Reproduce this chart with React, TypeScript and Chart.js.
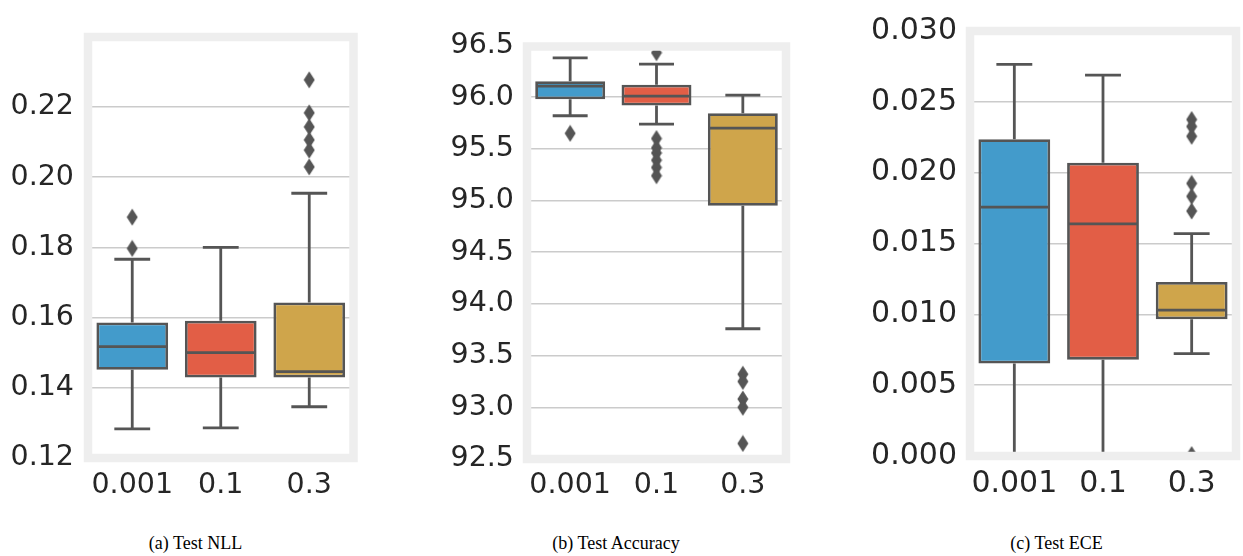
import React, { useEffect, useRef } from 'react';
import { Chart, registerables } from 'chart.js';

Chart.register(...registerables);

// ---------- data ----------
const categories = ['0.001', '0.1', '0.3'];
const boxColors = ['#439BCB', '#E25E46', '#CFA54B'];

// (a) Test NLL
const nllQ1 = [0.1451, 0.1429, 0.1429];
const nllMedian = [0.1517, 0.15, 0.1446];
const nllQ3 = [0.1586, 0.1591, 0.1643];
const nllWhiskerLow = [0.1283, 0.1286, 0.1346];
const nllWhiskerHigh = [0.1766, 0.18, 0.1954];
const nllOutliers = [[0.1886, 0.1797], [], [0.2277, 0.2183, 0.2143, 0.2106, 0.2077, 0.2029]];
const nllTicks = [0.12, 0.14, 0.16, 0.18, 0.2, 0.22];

// (b) Test Accuracy
const accQ1 = [95.98, 95.92, 94.95];
const accMedian = [96.107, 96.01, 95.7];
const accQ3 = [96.155, 96.12, 95.845];
const accWhiskerLow = [95.82, 95.74, 93.76];
const accWhiskerHigh = [96.38, 96.32, 96.02];
const accOutliers = [
  [95.65],
  [96.43, 95.6, 95.51, 95.46, 95.39, 95.32, 95.24],
  [93.32, 93.25, 93.08, 93.0, 92.65],
];
const accTicks = [92.5, 93.0, 93.5, 94.0, 94.5, 95.0, 95.5, 96.0, 96.5];

// (c) Test ECE
const eceQ1 = [0.00653, 0.0068, 0.00965];
const eceMedian = [0.01757, 0.01639, 0.0103];
const eceQ3 = [0.02236, 0.0207, 0.01229];
const eceWhiskerLow = [0.0, 0.0, 0.00722];
const eceWhiskerHigh = [0.02764, 0.02688, 0.0157];
const eceOutliers = [[], [], [0.02375, 0.02326, 0.02257, 0.01924, 0.01833, 0.01729, 0.0001]];
const eceTicks = [0, 0.005, 0.01, 0.015, 0.02, 0.025, 0.03];

const captions = ['(a) Test NLL', '(b) Test Accuracy', '(c) Test ECE'];

// ---------- styles ----------
const LINE = '#555555';
const FRAME = '#EEEEEE';
const GRID = '#CBCBCB';
const TEXT = '#262626';
const LW = 2.8;

type Panel = {
  q1: number[]; med: number[]; q3: number[]; lo: number[]; hi: number[];
  outliers: number[][]; ticks: number[]; decimals: number;
  ymin: number; ymax: number;
  canvas: { left: number; width: number; height: number };
  area: { left: number; right: number; top: number; bottom: number };
  font: number; yPad: number; xPad: number;
};

const panels: Panel[] = [
  {
    q1: nllQ1, med: nllMedian, q3: nllQ3, lo: nllWhiskerLow, hi: nllWhiskerHigh,
    outliers: nllOutliers, ticks: nllTicks, decimals: 2, ymin: 0.12, ymax: 0.2399,
    canvas: { left: 0, width: 362, height: 500 },
    area: { left: 88, right: 353.5, top: 37, bottom: 458 },
    font: 28.5, yPad: 14, xPad: 10,
  },
  {
    q1: accQ1, med: accMedian, q3: accQ3, lo: accWhiskerLow, hi: accWhiskerHigh,
    outliers: accOutliers, ticks: accTicks, decimals: 1, ymin: 92.5, ymax: 96.49,
    canvas: { left: 420, width: 375, height: 500 },
    area: { left: 527, right: 786, top: 46.5, bottom: 459 },
    font: 28.5, yPad: 13, xPad: 9,
  },
  {
    q1: eceQ1, med: eceMedian, q3: eceQ3, lo: eceWhiskerLow, hi: eceWhiskerHigh,
    outliers: eceOutliers, ticks: eceTicks, decimals: 3, ymin: 0, ymax: 0.03,
    canvas: { left: 870, width: 373, height: 500 },
    area: { left: 970, right: 1241.5, top: 23, bottom: 456 },
    font: 30, yPad: 13, xPad: 10,
  },
];

const captionX = [195.5, 616, 1056.5];

function makeDiamond(): HTMLCanvasElement {
  const c = document.createElement('canvas');
  const w = 12, h = 18;
  c.width = w; c.height = h;
  const g = c.getContext('2d')!;
  g.fillStyle = LINE;
  g.beginPath();
  g.moveTo(w / 2, 0.5);
  g.lineTo(w - 0.5, h / 2);
  g.lineTo(w / 2, h - 0.5);
  g.lineTo(0.5, h / 2);
  g.closePath();
  g.fill();
  return c;
}

function makeBoxPlugin(p: Panel) {
  return {
    id: 'boxExtras',
    beforeDatasetsDraw(chart: any) {
      const { ctx, chartArea } = chart;
      const y = chart.scales.y;
      const meta = chart.getDatasetMeta(0);
      ctx.save();
      ctx.beginPath();
      ctx.rect(chartArea.left, chartArea.top, chartArea.right - chartArea.left, chartArea.bottom - chartArea.top);
      ctx.clip();
      ctx.strokeStyle = LINE;
      ctx.lineWidth = LW;
      meta.data.forEach((bar: any, i: number) => {
        const x = bar.x;
        const w = bar.width;
        const yLo = y.getPixelForValue(p.lo[i]);
        const yHi = y.getPixelForValue(p.hi[i]);
        ctx.beginPath();
        ctx.moveTo(x, y.getPixelForValue(p.q1[i]));
        ctx.lineTo(x, yLo);
        ctx.moveTo(x, y.getPixelForValue(p.q3[i]));
        ctx.lineTo(x, yHi);
        ctx.moveTo(x - w / 4, yLo);
        ctx.lineTo(x + w / 4, yLo);
        ctx.moveTo(x - w / 4, yHi);
        ctx.lineTo(x + w / 4, yHi);
        ctx.stroke();
      });
      ctx.restore();
    },
    afterDatasetDraw(chart: any, args: any) {
      if (args.index !== 0) return;
      const { ctx } = chart;
      const y = chart.scales.y;
      const meta = chart.getDatasetMeta(0);
      ctx.save();
      ctx.strokeStyle = LINE;
      ctx.lineWidth = LW;
      meta.data.forEach((bar: any, i: number) => {
        const ym = y.getPixelForValue(p.med[i]);
        ctx.beginPath();
        ctx.moveTo(bar.x - bar.width / 2 + 1, ym);
        ctx.lineTo(bar.x + bar.width / 2 - 1, ym);
        ctx.stroke();
      });
      ctx.restore();
    },
    afterDraw(chart: any) {
      const { ctx, chartArea } = chart;
      ctx.save();
      ctx.strokeStyle = FRAME;
      ctx.lineWidth = 8.5;
      ctx.strokeRect(chartArea.left, chartArea.top, chartArea.right - chartArea.left, chartArea.bottom - chartArea.top);
      ctx.restore();
    },
  };
}

function BoxPanel({ p }: { p: Panel }) {
  const ref = useRef<HTMLCanvasElement>(null);
  useEffect(() => {
    if (!ref.current) return;
    const diamond = makeDiamond();
    const yAxisWidth = p.area.left - p.canvas.left;
    const xAxisHeight = p.canvas.height - p.area.bottom;
    const padRight = p.canvas.left + p.canvas.width - p.area.right;
    const outlierPoints: { x: string; y: number }[] = [];
    p.outliers.forEach((arr, i) => arr.forEach((v) => outlierPoints.push({ x: categories[i], y: v })));

    const chart = new Chart(ref.current, {
      type: 'bar',
      data: {
        labels: categories,
        datasets: [
          {
            type: 'bar',
            data: categories.map((_, i) => [p.q1[i], p.q3[i]]),
            backgroundColor: boxColors,
            borderColor: LINE,
            borderWidth: LW,
            borderSkipped: false,
            barPercentage: 0.81,
            categoryPercentage: 1,
          } as any,
          {
            type: 'line',
            data: outlierPoints as any,
            showLine: false,
            pointStyle: diamond as any,
            pointRadius: 6,
            backgroundColor: LINE,
            borderColor: LINE,
          } as any,
        ],
      },
      plugins: [makeBoxPlugin(p)],
      options: {
        animation: false,
        responsive: false,
        devicePixelRatio: 1,
        layout: { padding: { top: p.area.top, right: padRight, left: 0, bottom: 0 } },
        plugins: { legend: { display: false }, tooltip: { enabled: false } },
        scales: {
          x: {
            type: 'category',
            offset: true,
            grid: { display: false, drawTicks: false },
            border: { display: false },
            ticks: {
              color: TEXT,
              padding: p.xPad,
              maxRotation: 0,
              autoSkip: false,
              font: { family: 'DejaVu Sans', size: p.font },
            },
            afterFit: (s: any) => { s.height = xAxisHeight; },
          },
          y: {
            type: 'linear',
            min: p.ymin,
            max: p.ymax,
            grid: { color: GRID, lineWidth: 1.6, drawTicks: false },
            border: { display: false },
            ticks: {
              color: TEXT,
              padding: p.yPad,
              includeBounds: false,
              autoSkip: false,
              font: { family: 'DejaVu Sans', size: p.font },
              callback: (v: any) => Number(v).toFixed(p.decimals),
            },
            afterBuildTicks: (s: any) => { s.ticks = p.ticks.map((v) => ({ value: v })); },
            afterFit: (s: any) => { s.width = yAxisWidth; },
          },
        },
      } as any,
    });
    return () => chart.destroy();
  }, [p]);
  return (
    <canvas
      ref={ref}
      width={p.canvas.width}
      height={p.canvas.height}
      style={{ position: 'absolute', left: p.canvas.left, top: 0, width: p.canvas.width, height: p.canvas.height }}
    />
  );
}

export default function App() {
  return (
    <div style={{ position: 'absolute', left: 0, top: 0, width: 1243, height: 556, background: '#fff', overflow: 'hidden' }}>
      {panels.map((p, i) => (
        <BoxPanel key={i} p={p} />
      ))}
      {captions.map((c, i) => (
        <div
          key={c}
          style={{
            position: 'absolute', left: captionX[i], top: 533, transform: 'translateX(-50%)',
            fontFamily: '"Liberation Serif", serif', fontSize: 18, lineHeight: '20px', color: '#000', whiteSpace: 'nowrap',
          }}
        >
          {c}
        </div>
      ))}
    </div>
  );
}
